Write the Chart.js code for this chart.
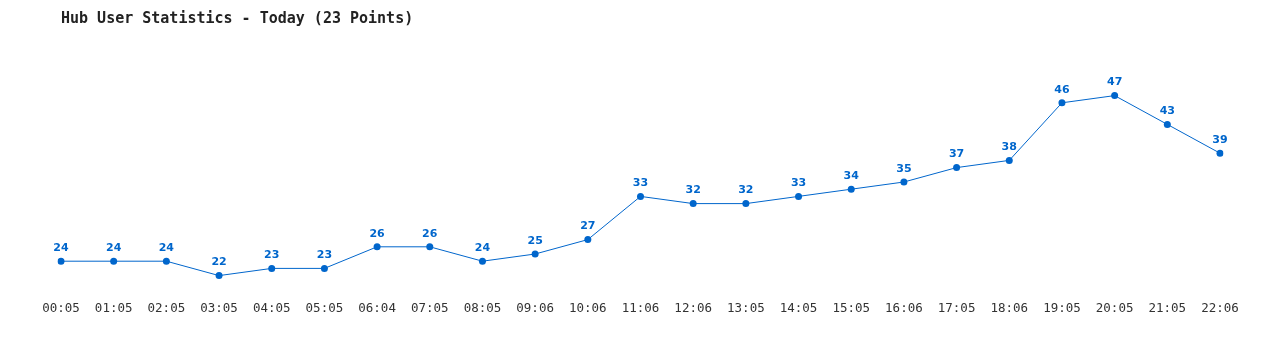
<!DOCTYPE html>
<html>
<head>
<meta charset="utf-8">
<script src="https://cdn.jsdelivr.net/npm/chart.js@4"></script>
<style>
  html, body { margin: 0; padding: 0; background: #fff; }
  #wrap { width: 1280px; height: 350px; }
</style>
</head>
<body>
<div id="wrap"><canvas id="hubChart"></canvas></div>
<script>
// datos del grafico
const horas = ['00:05','01:05','02:05','03:05','04:05','05:05','06:04','07:05','08:05','09:06','10:06','11:06',
               '12:06','13:05','14:05','15:05','16:06','17:05','18:06','19:05','20:05','21:05','22:06'];
const usuarios = [24, 24, 24, 22, 23, 23, 26, 26, 24, 25, 27, 33, 32, 32, 33, 34, 35, 37, 38, 46, 47, 43, 39];
const tituloTexto = 'Hub User Statistics - Today (23 Points)';

const AZUL = '#0066cc';

// etiquetas de valor encima de cada punto
const valorLabels = {
    id: 'valorLabels',
    afterDatasetsDraw(chart) {
        const ctx = chart.ctx;
        const meta = chart.getDatasetMeta(0);
        ctx.save();
        ctx.font = 'bold 11px "DejaVu Sans", Verdana, sans-serif';
        ctx.fillStyle = AZUL;
        ctx.textAlign = 'center';
        ctx.textBaseline = 'middle';
        meta.data.forEach((pt, i) => {
            ctx.fillText(String(usuarios[i]), pt.x, pt.y - 13);
        });
        ctx.restore();
    }
};

const ctx = document.getElementById('hubChart').getContext('2d');
const hubChart = new Chart(ctx, {
    type: 'line',
    data: {
        labels: horas,
        datasets: [{
            data: usuarios,
            borderColor: AZUL,
            backgroundColor: AZUL,
            borderWidth: 1,
            pointRadius: 3.5,
            pointHoverRadius: 3.5,
            pointBackgroundColor: AZUL,
            pointBorderWidth: 0,
            tension: 0,
            fill: false
        }]
    },
    options: {
        responsive: true,
        maintainAspectRatio: false,
        animation: false,
        layout: { padding: { left: 61, right: 60, top: 0, bottom: 23 } },
        plugins: {
            legend: { display: false },
            tooltip: { enabled: false },
            title: {
                display: true,
                text: tituloTexto,
                align: 'start',
                color: '#222',
                font: { family: '"DejaVu Sans Mono", monospace', size: 15, weight: 'bold', lineHeight: 1.2 },
                padding: { top: 10, bottom: 46 }
            }
        },
        scales: {
            x: {
                offset: false,
                grid: { display: false, drawTicks: false },
                border: { display: false },
                ticks: {
                    autoSkip: false,
                    maxRotation: 0,
                    padding: 11,
                    color: '#333',
                    font: { family: '"DejaVu Sans Mono", monospace', size: 12.5 }
                }
            },
            y: {
                display: false,
                min: 20,
                max: 50
            }
        }
    },
    plugins: [valorLabels]
});
</script>
</body>
</html>
